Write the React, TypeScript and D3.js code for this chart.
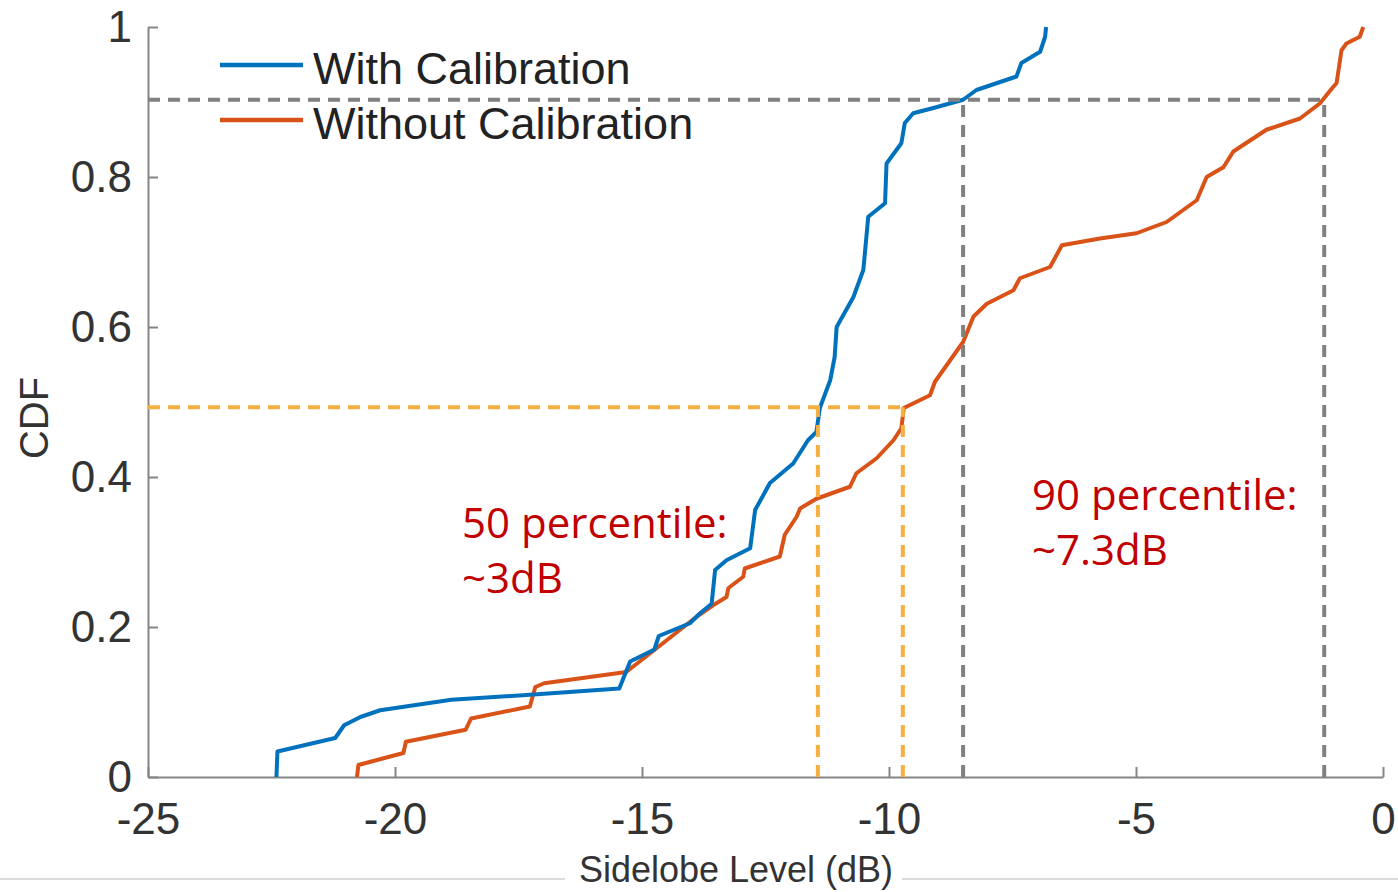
import React, { useEffect, useRef } from 'react';
import * as d3 from 'd3';

// CDF of sidelobe level: [dB, cdf]
const withCalibration: [number, number][] = [
  [-22.40, 0.000], [-22.38, 0.034], [-21.21, 0.052], [-21.03, 0.069], [-20.70, 0.080],
  [-20.30, 0.089], [-18.86, 0.103], [-17.41, 0.109], [-15.46, 0.118], [-15.24, 0.154],
  [-14.75, 0.170], [-14.66, 0.188], [-14.03, 0.205], [-13.83, 0.218], [-13.59, 0.231],
  [-13.52, 0.276], [-13.29, 0.289], [-12.81, 0.305], [-12.71, 0.356], [-12.41, 0.392],
  [-11.94, 0.418], [-11.64, 0.449], [-11.47, 0.460], [-11.40, 0.492], [-11.19, 0.529],
  [-11.10, 0.560], [-11.06, 0.600], [-10.72, 0.640], [-10.52, 0.676], [-10.42, 0.747],
  [-10.08, 0.765], [-10.05, 0.818], [-9.75, 0.845], [-9.68, 0.872], [-9.51, 0.885],
  [-9.10, 0.892], [-8.50, 0.903], [-8.23, 0.916], [-7.42, 0.934], [-7.32, 0.952],
  [-6.94, 0.967], [-6.84, 0.987], [-6.82, 1.000],
];

const withoutCalibration: [number, number][] = [
  [-20.77, 0.000], [-20.74, 0.016], [-19.83, 0.032], [-19.78, 0.047], [-18.57, 0.063],
  [-18.46, 0.078], [-17.27, 0.094], [-17.16, 0.120], [-16.98, 0.125], [-15.32, 0.140],
  [-14.66, 0.174], [-13.89, 0.214], [-13.56, 0.229], [-13.29, 0.240], [-13.25, 0.252],
  [-12.95, 0.267], [-12.92, 0.278], [-12.21, 0.294], [-12.11, 0.323], [-11.87, 0.347],
  [-11.80, 0.358], [-11.47, 0.371], [-10.79, 0.387], [-10.66, 0.405], [-10.25, 0.425],
  [-9.91, 0.449], [-9.75, 0.465], [-9.70, 0.492], [-9.17, 0.509], [-9.07, 0.527],
  [-8.50, 0.580], [-8.29, 0.614], [-8.02, 0.631], [-7.48, 0.649], [-7.35, 0.665],
  [-6.74, 0.680], [-6.50, 0.709], [-5.73, 0.718], [-4.99, 0.725], [-4.38, 0.740],
  [-3.77, 0.769], [-3.57, 0.800], [-3.23, 0.813], [-3.03, 0.834], [-2.36, 0.863],
  [-1.68, 0.878], [-1.28, 0.898], [-1.01, 0.920], [-0.94, 0.925], [-0.84, 0.969],
  [-0.74, 0.978], [-0.47, 0.987], [-0.40, 1.000],
];

// percentile markers: cdf level, x with / without calibration
const percentile50 = { cdf: 0.493, withCal: -11.44, withoutCal: -9.72 };
const percentile90 = { cdf: 0.903, withCal: -8.50, withoutCal: -1.19 };

const xTicks = [-25, -20, -15, -10, -5, 0];
const yTicks = [0, 0.2, 0.4, 0.6, 0.8, 1];

const seriesNames = ['With Calibration', 'Without Calibration'];
const notes50 = ['50 percentile:', '~3dB'];
const notes90 = ['90 percentile:', '~7.3dB'];

const BLUE = '#0072bd';
const ORANGE = '#d95319';
const GOLD = '#f5b041';
const GREY = '#808080';
const RED = '#c00000';
const AXIS_FONT = '"Liberation Sans", Arial, sans-serif';

export default function App() {
  const ref = useRef<SVGSVGElement>(null);

  useEffect(() => {
    const svg = d3.select(ref.current);
    svg.selectAll('*').remove();

    const x = d3.scaleLinear().domain([-25, 0]).range([148, 1383]);
    const y = d3.scaleLinear().domain([0, 1]).range([777, 27]);

    // screenshot separator line at the bottom
    svg.append('line').attr('x1', 0).attr('x2', 565).attr('y1', 879).attr('y2', 879)
      .attr('stroke', '#dcdcdc').attr('stroke-width', 2);
    svg.append('line').attr('x1', 902).attr('x2', 1398).attr('y1', 879).attr('y2', 879)
      .attr('stroke', '#dcdcdc').attr('stroke-width', 2);

    const yAxis = d3.axisLeft(y).tickValues(yTicks).tickFormat(d => String(d))
      .tickSizeInner(-10).tickSizeOuter(0).tickPadding(16);
    const xAxis = d3.axisBottom(x).tickValues(xTicks).tickFormat(d => String(d))
      .tickSizeInner(-10).tickSizeOuter(0).tickPadding(26);

    const yg = svg.append('g').attr('transform', `translate(${x(-25)},0)`).call(yAxis);
    const xg = svg.append('g').attr('transform', `translate(0,${y(0)})`).call(xAxis);

    [xg, yg].forEach(g => {
      g.select('.domain').attr('stroke', '#858585').attr('stroke-width', 2);
      g.selectAll('.tick line').attr('stroke', '#858585').attr('stroke-width', 2);
      g.selectAll('.tick text')
        .attr('fill', '#333')
        .attr('font-size', 44)
        .attr('font-family', AXIS_FONT);
    });

    // axis titles
    svg.append('text')
      .attr('transform', 'translate(48,418) rotate(-90)')
      .attr('text-anchor', 'middle')
      .attr('font-family', AXIS_FONT).attr('font-size', 40).attr('fill', '#333')
      .text('CDF');
    svg.append('text')
      .attr('x', 736).attr('y', 882)
      .attr('text-anchor', 'middle')
      .attr('font-family', AXIS_FONT).attr('font-size', 36).attr('fill', '#333')
      .text('Sidelobe Level (dB)');

    // percentile guides
    const guide = (p: typeof percentile50, color: string) => {
      const g = svg.append('g')
        .attr('stroke', color).attr('stroke-width', 4)
        .attr('stroke-dasharray', '12 8').attr('fill', 'none');
      g.append('line')
        .attr('x1', x(-25)).attr('x2', x(p.withoutCal))
        .attr('y1', y(p.cdf)).attr('y2', y(p.cdf));
      [p.withCal, p.withoutCal].forEach(v => {
        g.append('line')
          .attr('x1', x(v)).attr('x2', x(v))
          .attr('y1', y(0)).attr('y2', y(p.cdf));
      });
    };

    const line = d3.line<[number, number]>().x(d => x(d[0])).y(d => y(d[1]));

    svg.append('path').datum(withoutCalibration)
      .attr('d', line).attr('fill', 'none')
      .attr('stroke', ORANGE).attr('stroke-width', 4).attr('stroke-linejoin', 'round');
    svg.append('path').datum(withCalibration)
      .attr('d', line).attr('fill', 'none')
      .attr('stroke', BLUE).attr('stroke-width', 4).attr('stroke-linejoin', 'round');

    guide(percentile50, GOLD);
    guide(percentile90, GREY);

    // legend
    const legend = svg.append('g');
    [BLUE, ORANGE].forEach((c, i) => {
      const ly = 65 + i * 55;
      legend.append('line').attr('x1', 220).attr('x2', 303).attr('y1', ly).attr('y2', ly)
        .attr('stroke', c).attr('stroke-width', 4.5);
      legend.append('text').attr('x', 313).attr('y', ly + 19)
        .attr('font-family', AXIS_FONT).attr('font-size', 45).attr('fill', '#222')
        .text(seriesNames[i]);
    });

    // annotations
    const note = (lines: string[], nx: number, ny: number) => {
      lines.forEach((t, i) => {
        svg.append('text').attr('x', nx).attr('y', ny + i * 55)
          .attr('font-family', '"Open Sans", "Noto Sans", sans-serif')
          .attr('font-size', 42).attr('fill', RED)
          .text(t);
      });
    };
    note(notes50, 462, 538);
    note(notes90, 1032, 510);
  }, []);

  return (
    <svg ref={ref} width={1398} height={892}
      style={{ position: 'absolute', left: 0, top: 0, background: '#fff' }} />
  );
}
